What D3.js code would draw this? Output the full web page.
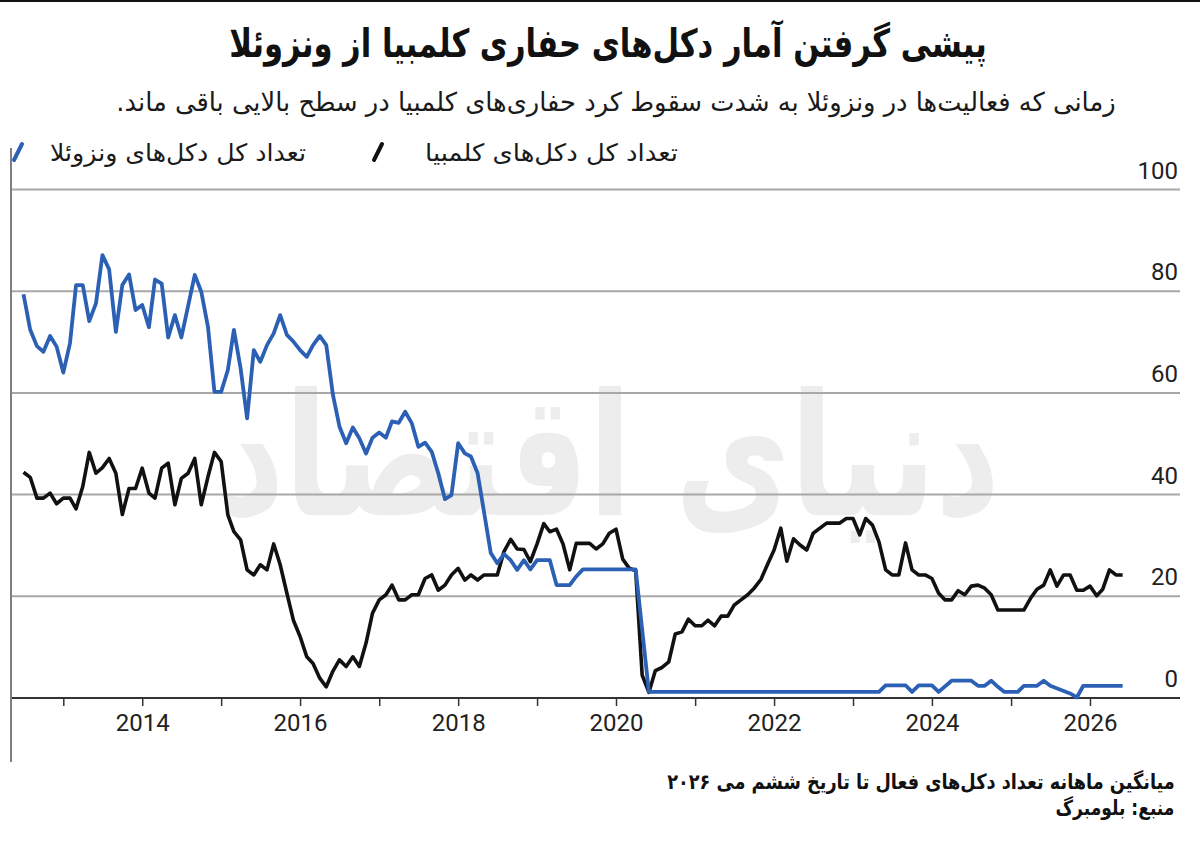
<!DOCTYPE html>
<html>
<head>
<meta charset="utf-8">
<script src="https://cdn.jsdelivr.net/npm/d3@7/dist/d3.min.js"></script>
<style>
  body { margin: 0; background: #fff; }
  svg { display: block; }
  .fa { font-family: "DejaVu Sans", sans-serif; }
  .num { font-family: "Liberation Sans Narrow", "Roboto", "Liberation Sans", sans-serif; }
</style>
</head>
<body>
<div id="chart"></div>
<script>
// Colombia rigs (black line), monthly average
var colombiaDates = ["2012-07","2012-08","2012-09","2012-10","2012-11","2012-12",
  "2013-01","2013-02","2013-03","2013-04","2013-05","2013-06","2013-07","2013-08","2013-09","2013-10","2013-11","2013-12",
  "2014-01","2014-02","2014-03","2014-04","2014-05","2014-06","2014-07","2014-08","2014-09","2014-10","2014-11","2014-12",
  "2015-01","2015-02","2015-03","2015-04","2015-05","2015-06","2015-07","2015-08","2015-09","2015-10","2015-11","2015-12",
  "2016-01","2016-02","2016-03","2016-04","2016-05","2016-06","2016-07","2016-08","2016-09","2016-10","2016-11","2016-12",
  "2017-01","2017-02","2017-03","2017-04","2017-05","2017-06","2017-07","2017-08","2017-09","2017-10","2017-11","2017-12",
  "2018-01","2018-02","2018-03","2018-04","2018-05","2018-06","2018-07","2018-08","2018-09","2018-10","2018-11","2018-12",
  "2019-01","2019-02","2019-03","2019-04","2019-05","2019-06","2019-07","2019-08","2019-09","2019-10","2019-11","2019-12",
  "2020-01","2020-02","2020-03","2020-04","2020-05","2020-06","2020-07","2020-08","2020-09","2020-10","2020-11","2020-12",
  "2021-01","2021-02","2021-03","2021-04","2021-05","2021-06","2021-07","2021-08","2021-09","2021-10","2021-11","2021-12",
  "2022-01","2022-02","2022-03","2022-04","2022-05","2022-06","2022-07","2022-08","2022-09","2022-10","2022-11","2022-12",
  "2023-01","2023-02","2023-03","2023-04","2023-05","2023-06","2023-07","2023-08","2023-09","2023-10","2023-11","2023-12",
  "2024-01","2024-02","2024-03","2024-04","2024-05","2024-06","2024-07","2024-08","2024-09","2024-10","2024-11",
  "2025-03","2025-04","2025-05","2025-06","2025-07","2025-08","2025-09","2025-10","2025-11","2025-12",
  "2026-01","2026-02","2026-03","2026-04","2026-05","2026-06"];
var colombiaRigs = [44.4,43.4,39.3,39.3,40.3,38.2,
  39.3,39.3,37.2,41.6,48.3,44.2,45.3,47.1,44.2,36.1,41.2,41.2,
  45.2,40.3,39.3,45.2,46.2,38.0,43.2,44.2,47.1,38.0,43.5,48.3,
  46.5,36.0,32.7,31.1,25.2,24.2,26.2,25.2,30.3,26.2,20.6,15.3,
  12.1,8.1,6.8,3.9,2.2,5.3,7.5,6.2,8.1,6.2,10.8,16.7,
  19.3,20.3,22.2,19.3,19.3,20.3,20.3,23.5,24.2,21.2,22.2,24.2,
  25.5,23.2,24.2,23.2,24.2,24.2,24.2,28.8,31.2,29.3,29.2,26.8,
  30.3,34.3,32.7,33.2,30.3,25.2,30.4,30.4,30.4,29.3,30.3,32.4,
  33.2,27.3,25.6,25.0,4.5,1.1,5.4,6.0,7.1,12.6,13.0,15.5,
  14.2,14.2,15.3,14.2,16.1,16.1,18.3,19.3,20.3,21.6,23.3,26.2,
  29.1,33.4,26.9,31.3,30.1,29.1,32.4,33.4,34.4,34.4,34.4,35.3,
  35.3,32.1,35.3,34.0,30.7,25.2,24.2,24.2,30.5,25.2,24.2,24.2,
  23.5,20.6,19.3,19.3,21.1,20.3,22.0,22.2,21.6,20.3,17.3,
  17.3,19.6,21.4,22.2,25.2,22.0,24.2,24.2,21.2,21.2,
  22.0,20.1,21.4,25.2,24.2,24.2];

// Venezuela rigs (blue line)
var venezuelaDates = ["2012-07","2012-08","2012-09","2012-10","2012-11","2012-12",
  "2013-01","2013-02","2013-03","2013-04","2013-05","2013-06","2013-07","2013-08","2013-09","2013-10","2013-11","2013-12",
  "2014-01","2014-02","2014-03","2014-04","2014-05","2014-06","2014-07","2014-09","2014-10","2014-11","2014-12",
  "2015-01","2015-02","2015-03","2015-04","2015-05","2015-06","2015-07","2015-08","2015-09","2015-10","2015-11","2015-12",
  "2016-01","2016-02","2016-03","2016-04","2016-05","2016-06","2016-07","2016-08","2016-09","2016-10","2016-11","2016-12",
  "2017-01","2017-02","2017-03","2017-04","2017-05","2017-06","2017-07","2017-08","2017-09","2017-10","2017-11","2017-12",
  "2018-01","2018-02","2018-03","2018-04","2018-06","2018-07","2018-08","2018-09","2018-10","2018-11","2018-12",
  "2019-01","2019-03","2019-04","2019-06","2019-07","2019-08",
  "2020-04","2020-06","2023-05","2023-06","2023-09","2023-10","2023-11",
  "2024-01","2024-02","2024-04","2024-07","2024-08","2024-09","2024-10","2024-11","2024-12",
  "2025-02","2025-03","2025-05","2025-06","2025-07","2025-10","2025-11","2025-12","2026-06"];
var venezuelaRigs = [79.4,72.4,69.2,68.1,71.2,69.1,
  64.0,69.8,81.2,81.2,74.1,77.6,87.1,84.3,72.0,81.2,83.3,76.3,
  77.3,72.9,82.3,81.5,70.9,75.3,70.9,83.2,79.9,73.0,60.2,
  60.2,64.5,72.4,64.8,55.0,68.4,66.1,69.4,71.7,75.3,71.4,70.1,
  68.4,67.1,69.4,71.2,69.4,59.6,53.4,50.1,53.2,51.1,48.1,51.2,
  52.2,51.2,54.4,54.1,56.3,54.0,49.4,50.2,48.4,44.2,39.1,39.9,
  50.1,48.1,47.5,44.2,28.5,26.5,28.3,27.1,25.2,27.1,25.3,
  27.1,27.1,22.2,22.2,23.9,25.3,
  25.3,1.2,1.2,2.5,2.5,1.2,2.5,
  2.5,1.2,3.4,3.4,2.4,2.4,3.4,2.2,1.2,
  1.2,2.4,2.4,3.4,2.4,0.9,0.1,2.4,2.4];

var yTicks = [0, 20, 40, 60, 80, 100];

var titleText = "پیشی گرفتن آمار دکل‌های حفاری کلمبیا از ونزوئلا";
var subtitleText = "زمانی که فعالیت‌ها در ونزوئلا به شدت سقوط کرد حفاری‌های کلمبیا در سطح بالایی باقی ماند.";
var legendColombia = "تعداد کل دکل‌های کلمبیا";
var legendVenezuela = "تعداد کل دکل‌های ونزوئلا";
var noteText = "میانگین ماهانه تعداد دکل‌های فعال تا تاریخ ششم می ۲۰۲۶";
var sourceText = "منبع: بلومبرگ";
var watermarkText = "دنیای اقتصاد";

var w = 1200;
var h = 842;
var blue = "#2b60b5";
var black = "#111";

var parseMonth = d3.timeParse("%Y-%m");

var svg = d3
  .select("#chart")
  .append("svg")
  .attr("width", w)
  .attr("height", h);

// scales, calibrated so the year ticks land where the picture has them
var xScale = d3
  .scaleTime()
  .domain([new Date(2013, 0, 1), new Date(2026, 0, 1)])
  .range([63.3, 1090]);
var yScale = d3
  .scaleLinear()
  .domain([0, 100])
  .range([698, 189.5]);

// persian text: write it at its natural size, then squeeze it sideways
// so it takes the width it has in the picture (centre cx, baseline y)
function faText(parent, str, cx, y, size, width, bold, fill) {
  var g = parent.append("g");
  var t = g.append("text")
    .attr("class", "fa")
    .attr("x", 0)
    .attr("y", 0)
    .attr("text-anchor", "middle")
    .attr("direction", "rtl")
    .attr("font-size", size)
    .attr("font-weight", bold ? "bold" : "normal")
    .attr("fill", fill)
    .text(str);
  var len = t.node().getComputedTextLength();
  g.attr("transform", "translate(" + cx + "," + y + ") scale(" + (width / len) + ",1)");
  return t;
}

// frame bits
svg.append("rect").attr("x", 0).attr("y", 0).attr("width", w).attr("height", 2).attr("fill", "#111");
svg.append("line")
  .attr("x1", 11).attr("x2", 11).attr("y1", 148).attr("y2", 762)
  .attr("stroke", "#555").attr("stroke-width", 1.5);

// watermark
faText(svg, watermarkText, 610, 515, 170, 780, true, "#ededed");

// grid
svg.append("g")
  .selectAll("line")
  .data(yTicks.filter(function (d) { return d > 0; }))
  .enter()
  .append("line")
  .attr("x1", 12)
  .attr("x2", 1180)
  .attr("y1", function (d) { return yScale(d); })
  .attr("y2", function (d) { return yScale(d); })
  .attr("stroke", "#a8a8a8")
  .attr("stroke-width", 2);

svg.append("g")
  .selectAll("text")
  .data(yTicks)
  .enter()
  .append("text")
  .attr("class", "num")
  .attr("x", 1178)
  .attr("y", function (d) { return yScale(d) - 11; })
  .attr("text-anchor", "end")
  .attr("font-size", 24)
  .attr("fill", "#222")
  .text(function (d) { return d; });

// x axis
var xAxis = d3
  .axisBottom(xScale)
  .ticks(d3.timeYear.every(1))
  .tickSize(8)
  .tickPadding(8)
  .tickFormat(function (d) {
    var yr = d.getFullYear();
    return yr % 2 === 0 ? String(yr) : "";
  });

var gx = svg
  .append("g")
  .attr("class", "x axis")
  .attr("transform", "translate(0,698)")
  .call(xAxis);
gx.select(".domain").remove();
gx.selectAll(".tick line").attr("stroke", "#333").attr("stroke-width", 1.5);
gx.selectAll(".tick text")
  .attr("class", "num")
  .attr("font-size", 24)
  .attr("fill", "#222");

svg.append("line")
  .attr("x1", 12).attr("x2", 1180)
  .attr("y1", yScale(0)).attr("y2", yScale(0))
  .attr("stroke", "#333").attr("stroke-width", 2);

// lines
var line = d3
  .line()
  .x(function (d) { return xScale(d.date); })
  .y(function (d) { return yScale(d.value); });

function series(dates, values) {
  return dates.map(function (d, i) {
    return { date: parseMonth(d), value: values[i] };
  });
}

svg.append("path")
  .datum(series(colombiaDates, colombiaRigs))
  .attr("d", line)
  .attr("fill", "none")
  .attr("stroke", black)
  .attr("stroke-width", 3.6)
  .attr("stroke-linejoin", "round");

svg.append("path")
  .datum(series(venezuelaDates, venezuelaRigs))
  .attr("d", line)
  .attr("fill", "none")
  .attr("stroke", blue)
  .attr("stroke-width", 3.8)
  .attr("stroke-linejoin", "round");

// title + subtitle
faText(svg, titleText, 608, 57, 39, 758, true, "#111");
faText(svg, subtitleText, 616, 111, 26, 1000, false, "#1a1a1a");

// legend
var legendItems = [
  { label: legendColombia, color: black, right: 678, width: 253, icon: 378 },
  { label: legendVenezuela, color: blue, right: 306, width: 256, icon: 18 }
];
legendItems.forEach(function (d) {
  faText(svg, d.label, d.right - d.width / 2, 161, 24, d.width, false, "#1a1a1a");
  svg.append("line")
    .attr("x1", d.icon - 4).attr("y1", 160)
    .attr("x2", d.icon + 4).attr("y2", 144)
    .attr("stroke", d.color)
    .attr("stroke-width", 4)
    .attr("stroke-linecap", "round");
});

// footer
faText(svg, noteText, 1175 - 254, 789, 21, 508, true, "#111");
faText(svg, sourceText, 1175 - 60, 815, 21, 119, true, "#111");
</script>
</body>
</html>
